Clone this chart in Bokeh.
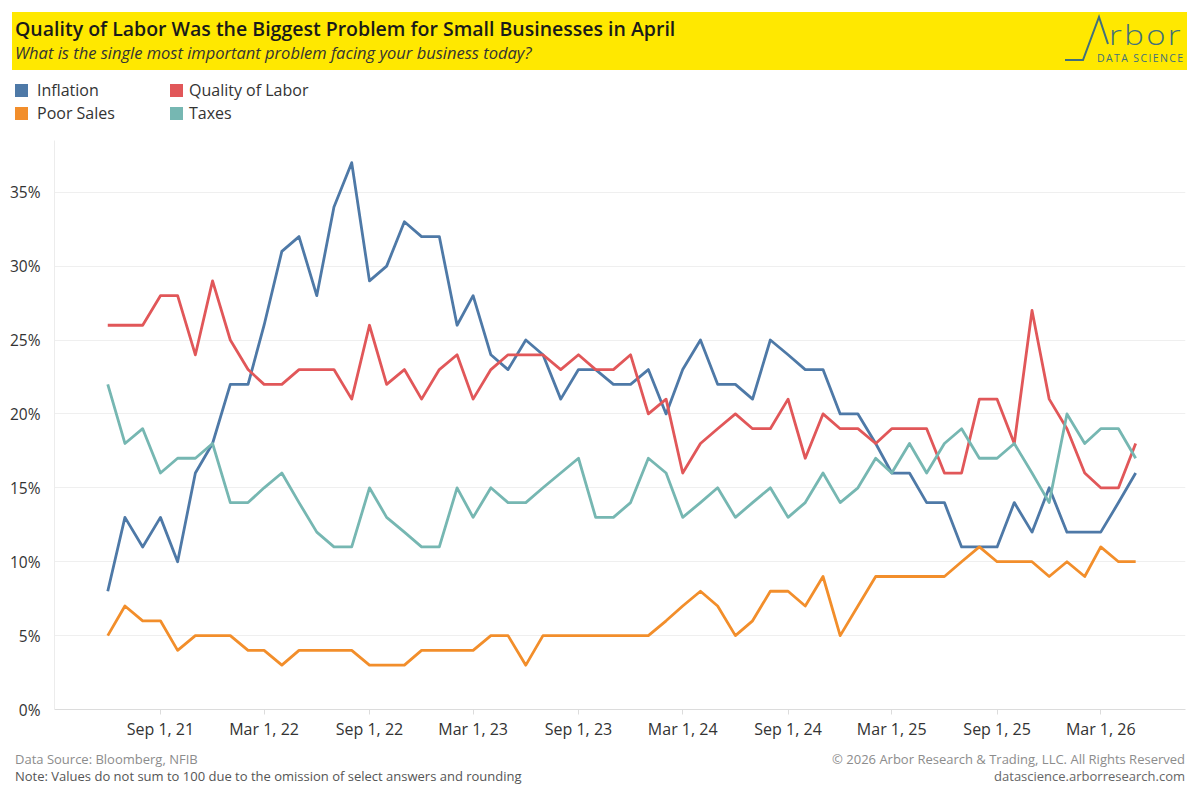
import pandas as pd
from bokeh.plotting import figure
from bokeh.models import (Range1d, FixedTicker, CustomJSTickFormatter, PrintfTickFormatter,
                          Div, ColumnDataSource)
from bokeh.layouts import column
from bokeh.embed import file_html
from bokeh.resources import INLINE

# ---------------- data ----------------
start_month = "2021-06-01"
n_months = 60
months = pd.date_range(start_month, periods=n_months, freq="MS")

inflation = [8, 13, 11, 13, 10, 16, 18, 22, 22, 26, 31, 32, 28, 34, 37,
             29, 30, 33, 32, 32, 26, 28, 24, 23, 25, 24, 21, 23, 23, 22, 22,
             23, 20, 23, 25, 22, 22, 21, 25, 24, 23, 23, 20, 20, 18, 16, 16, 14,
             14, 11, 11, 11, 14, 12, 15, 12, 12, 12, 14, 16]
quality_of_labor = [26, 26, 26, 28, 28, 24, 29, 25, 23, 22, 22, 23, 23, 23, 21,
                    26, 22, 23, 21, 23, 24, 21, 23, 24, 24, 24, 23, 24, 23, 23, 24,
                    20, 21, 16, 18, 19, 20, 19, 19, 21, 17, 20, 19, 19, 18, 19, 19, 19,
                    16, 16, 21, 21, 18, 27, 21, 19, 16, 15, 15, 18]
poor_sales = [5, 7, 6, 6, 4, 5, 5, 5, 4, 4, 3, 4, 4, 4, 4,
              3, 3, 3, 4, 4, 4, 4, 5, 5, 3, 5, 5, 5, 5, 5, 5,
              5, 6, 7, 8, 7, 5, 6, 8, 8, 7, 9, 5, 7, 9, 9, 9, 9,
              9, 10, 11, 10, 10, 10, 9, 10, 9, 11, 10, 10]
taxes = [22, 18, 19, 16, 17, 17, 18, 14, 14, 15, 16, 14, 12, 11, 11,
         15, 13, 12, 11, 11, 15, 13, 15, 14, 14, 15, 16, 17, 13, 13, 14,
         17, 16, 13, 14, 15, 13, 14, 15, 13, 14, 16, 14, 15, 17, 16, 18, 16,
         18, 19, 17, 17, 18, 16, 14, 20, 18, 19, 19, 17]

series_names = ["Inflation", "Quality of Labor", "Poor Sales", "Taxes"]
series_cols = ["inflation", "quality", "poor_sales", "taxes"]
series_colors = ["#4E79A7", "#E15759", "#F28E2B", "#76B7B2"]

x_tick_dates = ["2021-09-01", "2022-03-01", "2022-09-01", "2023-03-01", "2023-09-01",
                "2024-03-01", "2024-09-01", "2025-03-01", "2025-09-01", "2026-03-01"]
y_ticks = [0, 5, 10, 15, 20, 25, 30, 35]
x_start, x_end = "2021-02-28", "2026-07-27"
y_start, y_end = 0, 38.5

title = "Quality of Labor Was the Biggest Problem for Small Businesses in April"
subtitle = "What is the single most important problem facing your business today?"
source_text = "Data Source: Bloomberg, NFIB"
note_text = "Note: Values do not sum to 100 due to the omission of select answers and rounding"
copyright_text = "\u00a9 2026 Arbor Research &amp; Trading, LLC. All Rights Reserved"
site_text = "datascience.arborresearch.com"

FONT = "Open Sans"
W = 1192

src = ColumnDataSource(dict(date=months, inflation=inflation, quality=quality_of_labor,
                            poor_sales=poor_sales, taxes=taxes))

# ---------------- header (banner + legend) ----------------
legend_layout = [(0, 0), (0, 1), (1, 0), (1, 1)]  # (row, col) for each series
legend_html = ""
for name, color, (r, c) in zip(series_names, series_colors, legend_layout):
    sq_left = 15 + c * 155
    txt_left = 37 + c * 152
    sq_top = 84 + r * 23
    txt_top = 79 + r * 23
    legend_html += (f'<div style="position:absolute;left:{sq_left}px;top:{sq_top}px;width:13px;height:13px;'
                    f'background:{color};"></div>'
                    f'<div style="position:absolute;left:{txt_left}px;top:{txt_top}px;font-size:16px;'
                    f'line-height:22px;color:#333;white-space:nowrap;">{name}</div>')

logo_color = "#41707C"
header_html = f"""
<div style="position:relative;width:{W}px;height:140px;font-family:'{FONT}';overflow:hidden;">
  <div style="position:absolute;left:12px;top:12px;width:1175px;height:58px;background:#FFE800;"></div>
  <div style="position:absolute;left:15px;top:16px;font-size:19.5px;line-height:26px;font-weight:600;color:#1a1a1a;white-space:nowrap;">{title}</div>
  <div style="position:absolute;left:15px;top:43px;font-size:16.5px;line-height:20px;font-style:italic;color:#333;white-space:nowrap;">{subtitle}</div>
  <svg width="{W}" height="72" style="position:absolute;left:0;top:0;">
    <polyline points="1065,60 1083,60 1099,17 1108,44" fill="none" stroke="{logo_color}" stroke-width="2"/>
    <text x="1109" y="45" font-family="{FONT}" font-weight="300" font-size="28" letter-spacing="2" textLength="74" lengthAdjust="spacingAndGlyphs" fill="{logo_color}">rbor</text>
    <text x="1097" y="62" font-family="{FONT}" font-size="10.5" textLength="86" fill="{logo_color}">DATA SCIENCE</text>
  </svg>
  {legend_html}
</div>
"""
header = Div(text=header_html, width=W, height=140, margin=(0, 0, 0, 0))

# ---------------- chart ----------------
p = figure(width=W, height=605, x_axis_type="datetime",
           x_range=Range1d(pd.Timestamp(x_start), pd.Timestamp(x_end)),
           y_range=Range1d(y_start, y_end),
           output_backend="svg", toolbar_location=None,
           min_border_left=54, min_border_right=7, min_border_top=0, min_border_bottom=36)
p.outline_line_color = None
p.background_fill_color = "white"
p.border_fill_color = "white"

for col, color in zip(series_cols, series_colors):
    p.line(x="date", y=col, source=src, line_color=color, line_width=2.8, line_join="round")

# axes
xa = p.xaxis[0]
xa.ticker = FixedTicker(ticks=[pd.Timestamp(d).value // 10**6 for d in x_tick_dates])
xa.formatter = CustomJSTickFormatter(code="""
const d = new Date(tick);
const m = ["Jan","Feb","Mar","Apr","May","Jun","Jul","Aug","Sep","Oct","Nov","Dec"][d.getUTCMonth()];
return m + " " + d.getUTCDate() + ", " + String(d.getUTCFullYear()).slice(2);
""")
xa.axis_line_color = "#dcdcdc"
xa.major_tick_line_color = "#dcdcdc"
xa.major_tick_in = 0
xa.major_tick_out = 5
xa.minor_tick_line_color = None
xa.major_label_text_font = FONT
xa.major_label_text_font_size = "16px"
xa.major_label_text_color = "#333333"
xa.major_label_standoff = 3

ya = p.yaxis[0]
ya.ticker = FixedTicker(ticks=y_ticks)
ya.formatter = PrintfTickFormatter(format="%d%%")
ya.axis_line_color = "#ececec"
ya.major_tick_line_color = None
ya.minor_tick_line_color = None
ya.major_label_text_font = FONT
ya.major_label_text_font_size = "15.5px"
ya.major_label_text_color = "#333333"
ya.major_label_standoff = 8

p.xgrid.grid_line_color = None
p.ygrid.grid_line_color = "#efefef"
p.ygrid.grid_line_width = 1

# ---------------- footer ----------------
footer_html = f"""
<div style="position:relative;width:{W}px;height:50px;font-family:'{FONT}';font-size:13px;line-height:17px;">
  <div style="position:absolute;left:15px;top:6px;color:#8c8c8c;white-space:nowrap;">{source_text}</div>
  <div style="position:absolute;left:15px;top:23px;color:#555555;white-space:nowrap;">{note_text}</div>
  <div style="position:absolute;right:7px;top:6px;color:#8c8c8c;white-space:nowrap;text-align:right;">{copyright_text}</div>
  <div style="position:absolute;right:7px;top:23px;color:#666666;white-space:nowrap;text-align:right;">{site_text}</div>
</div>
"""
footer = Div(text=footer_html, width=W, height=50, margin=(0, 0, 0, 0))

layout = column(header, p, footer, spacing=0)
open("out.html", "w").write(file_html(layout, INLINE))
